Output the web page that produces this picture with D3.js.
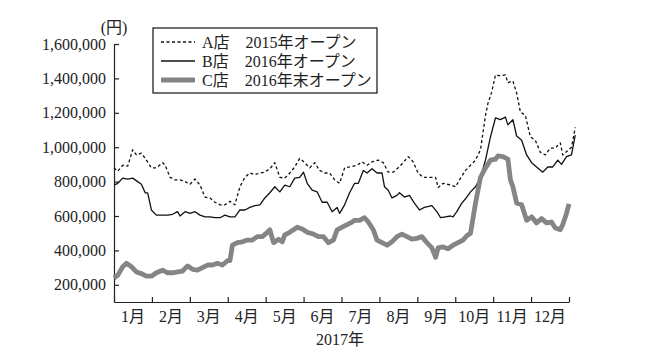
<!DOCTYPE html>
<html>
<head>
<meta charset="utf-8">
<script src="https://cdn.jsdelivr.net/npm/d3@7"></script>
<style>
  body { margin: 0; background: #fff; }
  svg text { font-family: "Liberation Serif", "Noto Sans CJK JP", serif; fill: #222; }
</style>
</head>
<body>
<svg width="650" height="363"></svg>
<script>
const svg = d3.select('svg');

// data: day of year -> yen
const dayA = [0,3,7,11,15,18,22,26,30,34,39,41,45,49,53,57,61,65,69,73,77,81,85,89,93,97,101,105,109,113,117,121,125,129,133,137,141,145,149,153,157,161,165,169,173,177,181,185,189,195,199,203,207,212,216,220,224,228,232,236,240,244,248,253,258,260,264,270,274,278,282,286,290,294,298,300,303,306,310,314,316,320,323,326,330,334,338,342,346,350,354,358,360,364,367,370];
const valA = [880000,860000,895000,890000,985000,955000,965000,925000,880000,880000,910000,895000,825000,810000,810000,800000,785000,815000,780000,710000,705000,680000,665000,665000,685000,665000,770000,825000,850000,840000,850000,855000,875000,910000,825000,820000,850000,885000,935000,910000,880000,910000,865000,850000,850000,810000,790000,880000,885000,895000,915000,895000,915000,925000,910000,855000,855000,880000,910000,945000,915000,850000,825000,825000,825000,765000,790000,780000,770000,820000,865000,895000,925000,985000,1185000,1255000,1320000,1420000,1415000,1420000,1375000,1385000,1315000,1205000,1185000,1060000,1040000,970000,955000,995000,995000,1025000,955000,980000,1000000,1115000];

const dayB = [0,3,7,11,15,19,22,25,27,30,34,39,43,47,51,53,57,61,65,69,73,77,81,85,89,93,97,101,105,109,113,117,121,125,129,133,137,141,145,149,152,155,159,163,167,171,175,179,181,185,189,193,196,200,203,207,211,215,217,220,223,227,229,233,237,241,245,249,255,259,262,266,270,272,275,279,282,286,290,294,298,302,306,310,314,316,320,323,327,331,335,339,344,348,352,356,359,363,367,370];
const valB = [780000,790000,820000,815000,820000,800000,785000,735000,735000,635000,605000,605000,605000,610000,625000,600000,625000,615000,625000,605000,595000,595000,590000,590000,605000,595000,595000,635000,635000,650000,660000,665000,705000,735000,770000,740000,780000,770000,820000,825000,855000,790000,750000,740000,680000,680000,625000,650000,615000,665000,735000,790000,790000,865000,850000,875000,850000,850000,770000,750000,705000,720000,735000,710000,720000,675000,635000,650000,660000,625000,590000,595000,600000,595000,625000,675000,700000,740000,770000,825000,925000,1060000,1170000,1160000,1175000,1130000,1160000,1065000,1040000,955000,910000,885000,855000,885000,885000,925000,900000,945000,955000,1070000];

const dayC = [0,3,7,10,14,18,22,26,30,34,39,43,47,51,55,59,63,67,71,75,79,83,87,91,93,95,99,103,107,111,115,119,123,125,128,132,135,137,141,147,151,155,160,164,168,172,176,179,183,187,191,193,197,201,204,208,211,215,219,223,227,231,235,239,243,247,251,255,258,260,264,268,272,276,280,283,286,290,294,298,302,306,308,312,316,318,320,323,327,331,335,339,343,347,351,354,358,360,363,365];
const valC = [240000,255000,305000,325000,305000,275000,265000,250000,250000,270000,285000,270000,270000,275000,280000,310000,290000,285000,300000,315000,315000,325000,315000,340000,340000,430000,445000,450000,460000,460000,480000,480000,505000,520000,445000,465000,450000,490000,505000,535000,525000,505000,495000,480000,480000,445000,460000,520000,535000,550000,565000,575000,575000,590000,565000,520000,460000,445000,430000,450000,480000,495000,480000,465000,470000,480000,445000,415000,360000,415000,420000,410000,430000,445000,460000,485000,500000,675000,825000,880000,925000,930000,950000,945000,930000,810000,770000,675000,665000,575000,595000,560000,585000,560000,565000,530000,520000,550000,615000,670000];

const months = ['1月','2月','3月','4月','5月','6月','7月','8月','9月','10月','11月','12月'];
const yTicks = [200000,400000,600000,800000,1000000,1200000,1400000,1600000];
const legendNames = ['A店　2015年オープン','B店　2016年オープン','C店　2016年末オープン'];

const margin = {left: 114, right: 81, top: 44, bottom: 61};
const WIDTH = 650, HEIGHT = 363;
const x = d3.scaleLinear().domain([0, 365]).range([margin.left, WIDTH - margin.right]);
const y = d3.scaleLinear().domain([100000, 1600000]).range([HEIGHT - margin.bottom, margin.top]);
const xMonth = d3.scaleBand().domain(months).range(x.range());

// y axis, ticks pointing inward
svg.append('g')
    .attr('transform', 'translate(' + margin.left + ',0)')
    .call(d3.axisLeft(y).tickValues(yTicks).tickFormat(d3.format(',')).tickSizeInner(-5).tickSizeOuter(0).tickPadding(8))
    .call(g => g.selectAll('text').style('font-size', '16px'))
    .call(g => g.selectAll('line, path').attr('stroke', '#222').attr('stroke-width', 1.2));

// x axis: month boundaries + labels centred in each month
let monthEdges = d3.range(13).map(i => i * 365 / 12);
svg.append('g')
    .attr('transform', 'translate(0,' + (HEIGHT - margin.bottom) + ')')
    .call(d3.axisBottom(x).tickValues(monthEdges).tickFormat('').tickSizeInner(-5).tickSizeOuter(0))
    .call(g => g.selectAll('line, path').attr('stroke', '#222').attr('stroke-width', 1.2));

svg.append('g')
    .attr('transform', 'translate(0,' + (HEIGHT - margin.bottom) + ')')
    .call(d3.axisBottom(xMonth).tickSize(0).tickPadding(9))
    .call(g => g.select('.domain').remove())
    .call(g => g.selectAll('text').style('font-size', '16px'));

svg.append('text')
    .attr('x', 340).attr('y', 345)
    .attr('text-anchor', 'middle')
    .style('font-size', '16px')
    .text('2017年');

svg.append('text')
    .attr('x', 114).attr('y', 33)
    .attr('text-anchor', 'middle')
    .style('font-size', '16px')
    .text('(円)');

// lines
let line = d3.line().x(d => x(d[0])).y(d => y(d[1]));
let series = [
    {days: dayA, vals: valA, stroke: '#111', width: 1.3, dash: '3,2.5'},
    {days: dayB, vals: valB, stroke: '#111', width: 1.3, dash: null},
    {days: dayC, vals: valC, stroke: '#858585', width: 4.8, dash: null}
];
series.forEach(s => {
    svg.append('path')
        .datum(d3.zip(s.days, s.vals))
        .attr('d', line)
        .attr('fill', 'none')
        .attr('stroke', s.stroke)
        .attr('stroke-width', s.width)
        .attr('stroke-dasharray', s.dash)
        .attr('stroke-linejoin', 'round');
});

// legend
let legend = svg.append('g');
legend.append('rect')
    .attr('x', 153).attr('y', 28).attr('width', 224).attr('height', 65)
    .attr('fill', '#fff').attr('stroke', '#111').attr('stroke-width', 1.2);
series.forEach((s, i) => {
    let ly = 42 + i * 19;
    legend.append('line')
        .attr('x1', 161).attr('x2', 195).attr('y1', ly).attr('y2', ly)
        .attr('stroke', s.stroke)
        .attr('stroke-width', i == 2 ? 5 : s.width + 0.4)
        .attr('stroke-dasharray', s.dash);
    legend.append('text')
        .attr('x', 202).attr('y', ly)
        .attr('dominant-baseline', 'central')
        .style('font-size', '16px')
        .text(legendNames[i]);
});
</script>
</body>
</html>
